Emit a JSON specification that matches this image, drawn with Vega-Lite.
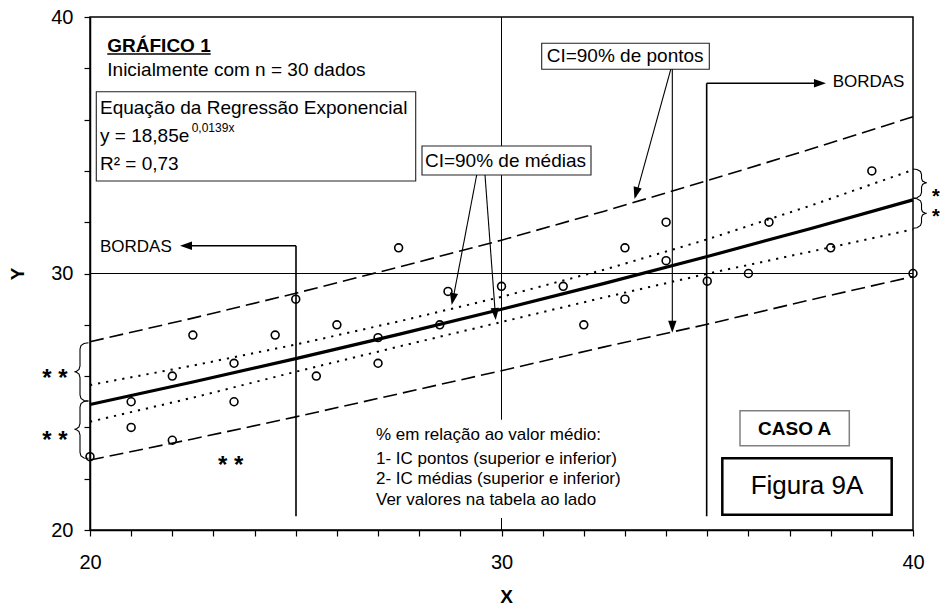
{
  "$schema": "https://vega.github.io/schema/vega-lite/v6.json",
  "width": 823,
  "height": 513,
  "autosize": "none",
  "padding": {"left": 90, "top": 17, "right": 27, "bottom": 76},
  "background": "white",
  "config": {
    "font": "Liberation Sans",
    "view": {"stroke": "black", "strokeWidth": 1.5},
    "axis": {"grid": false, "domainColor": "black", "domainWidth": 1.5, "tickColor": "black", "tickWidth": 1.2, "tickSize": 6, "labelColor": "black", "labelFontSize": 20, "titleColor": "black", "titleFontSize": 19, "titleFontWeight": "bold", "labelOverlap": false, "labelFlush": false, "labelFont": "Liberation Sans", "titleFont": "Liberation Sans"}
  },
  "datasets": {
    "points": [
      {"x": 20, "y": 22.86}, {"x": 21, "y": 24.0}, {"x": 21, "y": 25.0}, {"x": 22, "y": 23.5}, {"x": 22, "y": 26.0},
      {"x": 22.5, "y": 27.6}, {"x": 23.5, "y": 25.0}, {"x": 23.5, "y": 26.5}, {"x": 24.5, "y": 27.6}, {"x": 25, "y": 29.0},
      {"x": 25.5, "y": 26.0}, {"x": 26, "y": 28.0}, {"x": 27, "y": 26.5}, {"x": 27, "y": 27.5}, {"x": 27.5, "y": 31.0},
      {"x": 28.5, "y": 28.0}, {"x": 28.7, "y": 29.3}, {"x": 30, "y": 29.5}, {"x": 31.5, "y": 29.5}, {"x": 32, "y": 28.0},
      {"x": 33, "y": 29.0}, {"x": 33, "y": 31.0}, {"x": 34, "y": 30.5}, {"x": 34, "y": 32.0}, {"x": 35, "y": 29.7},
      {"x": 36, "y": 30.0}, {"x": 36.5, "y": 32.0}, {"x": 38, "y": 31.0}, {"x": 39, "y": 34.0}, {"x": 40, "y": 30.0}
    ],
    "reg": [
      {"x": 20, "y": 24.891}, {"x": 22.5, "y": 25.771}, {"x": 25, "y": 26.683}, {"x": 27.5, "y": 27.627}, {"x": 30, "y": 28.604},
      {"x": 32.5, "y": 29.615}, {"x": 35, "y": 30.662}, {"x": 37.5, "y": 31.747}, {"x": 40, "y": 32.869}
    ],
    "pi": [
      {"s": "up", "x": 20, "y": 27.34}, {"s": "up", "x": 22.5, "y": 28.26}, {"s": "up", "x": 25, "y": 29.23}, {"s": "up", "x": 27.5, "y": 30.25}, {"s": "up", "x": 30, "y": 31.30},
      {"s": "up", "x": 32.5, "y": 32.43}, {"s": "up", "x": 35, "y": 33.62}, {"s": "up", "x": 37.5, "y": 34.84}, {"s": "up", "x": 40, "y": 36.11},
      {"s": "lo", "x": 20, "y": 22.73}, {"s": "lo", "x": 22.5, "y": 23.55}, {"s": "lo", "x": 25, "y": 24.41}, {"s": "lo", "x": 27.5, "y": 25.31}, {"s": "lo", "x": 30, "y": 26.21},
      {"s": "lo", "x": 32.5, "y": 27.14}, {"s": "lo", "x": 35, "y": 28.02}, {"s": "lo", "x": 37.5, "y": 28.97}, {"s": "lo", "x": 40, "y": 29.88}
    ],
    "ci": [
      {"s": "up", "x": 20, "y": 25.65}, {"s": "up", "x": 22.5, "y": 26.41}, {"s": "up", "x": 25, "y": 27.23}, {"s": "up", "x": 27.5, "y": 28.13}, {"s": "up", "x": 30, "y": 29.09},
      {"s": "up", "x": 32.5, "y": 30.15}, {"s": "up", "x": 35, "y": 31.33}, {"s": "up", "x": 37.5, "y": 32.64}, {"s": "up", "x": 40, "y": 34.04},
      {"s": "lo", "x": 20, "y": 24.22}, {"s": "lo", "x": 22.5, "y": 25.16}, {"s": "lo", "x": 25, "y": 26.17}, {"s": "lo", "x": 27.5, "y": 27.15}, {"s": "lo", "x": 30, "y": 28.11},
      {"s": "lo", "x": 32.5, "y": 29.07}, {"s": "lo", "x": 35, "y": 29.99}, {"s": "lo", "x": 37.5, "y": 30.85}, {"s": "lo", "x": 40, "y": 31.72}
    ],
    "grid": [
      {"x": 30, "y": 40, "x2": 30, "y2": 24.30},
      {"x": 30, "y": 20.468, "x2": 30, "y2": 20},
      {"x": 20, "y": 30, "x2": 40, "y2": 30}
    ],
    "bordas": [
      {"x": 25.006, "y": 31.084, "x2": 22.3, "y2": 31.084},
      {"x": 25.006, "y": 31.084, "x2": 25.006, "y2": 20.534},
      {"x": 34.986, "y": 37.415, "x2": 34.986, "y2": 20.534},
      {"x": 34.986, "y": 37.415, "x2": 37.78, "y2": 37.415},
      {"x": 20.42, "y": 38.557, "x2": 22.933, "y2": 38.557}
    ],
    "arrows": [
      {"x": 34.113, "y": 37.961, "x2": 33.26, "y2": 33.0},
      {"x": 34.151, "y": 37.961, "x2": 34.151, "y2": 27.9},
      {"x": 29.397, "y": 33.84, "x2": 28.81, "y2": 28.9},
      {"x": 29.599, "y": 33.84, "x2": 29.855, "y2": 28.3}
    ],
    "braces": [
      {"b": 1, "i": 1, "x": 19.9635, "y": 27.302}, {"b": 1, "i": 2, "x": 19.854, "y": 27.271}, {"b": 1, "i": 3, "x": 19.781, "y": 27.193}, {"b": 1, "i": 4, "x": 19.757, "y": 27.057},
      {"b": 1, "i": 5, "x": 19.757, "y": 26.394}, {"b": 1, "i": 6, "x": 19.733, "y": 26.257}, {"b": 1, "i": 7, "x": 19.672, "y": 26.191}, {"b": 1, "i": 8, "x": 19.623, "y": 26.172},
      {"b": 1, "i": 9, "x": 19.672, "y": 26.152}, {"b": 1, "i": 10, "x": 19.733, "y": 26.082}, {"b": 1, "i": 11, "x": 19.757, "y": 25.946}, {"b": 1, "i": 12, "x": 19.757, "y": 25.263},
      {"b": 1, "i": 13, "x": 19.781, "y": 25.127}, {"b": 1, "i": 14, "x": 19.854, "y": 25.049}, {"b": 1, "i": 15, "x": 19.9635, "y": 25.029},
      {"b": 2, "i": 1, "x": 19.9635, "y": 25.029}, {"b": 2, "i": 2, "x": 19.854, "y": 25.010}, {"b": 2, "i": 3, "x": 19.781, "y": 24.932}, {"b": 2, "i": 4, "x": 19.757, "y": 24.795},
      {"b": 2, "i": 5, "x": 19.757, "y": 24.152}, {"b": 2, "i": 6, "x": 19.733, "y": 24.016}, {"b": 2, "i": 7, "x": 19.672, "y": 23.945}, {"b": 2, "i": 8, "x": 19.623, "y": 23.926},
      {"b": 2, "i": 9, "x": 19.672, "y": 23.906}, {"b": 2, "i": 10, "x": 19.733, "y": 23.840}, {"b": 2, "i": 11, "x": 19.757, "y": 23.704}, {"b": 2, "i": 12, "x": 19.757, "y": 23.021},
      {"b": 2, "i": 13, "x": 19.781, "y": 22.885}, {"b": 2, "i": 14, "x": 19.854, "y": 22.807}, {"b": 2, "i": 15, "x": 19.9635, "y": 22.795},
      {"b": 3, "i": 1, "x": 40.0, "y": 34.074}, {"b": 3, "i": 2, "x": 40.097, "y": 34.055}, {"b": 3, "i": 3, "x": 40.182, "y": 33.977}, {"b": 3, "i": 4, "x": 40.207, "y": 33.860},
      {"b": 3, "i": 5, "x": 40.207, "y": 33.704}, {"b": 3, "i": 6, "x": 40.231, "y": 33.606}, {"b": 3, "i": 7, "x": 40.292, "y": 33.556}, {"b": 3, "i": 8, "x": 40.333, "y": 33.540},
      {"b": 3, "i": 9, "x": 40.292, "y": 33.524}, {"b": 3, "i": 10, "x": 40.231, "y": 33.470}, {"b": 3, "i": 11, "x": 40.207, "y": 33.372}, {"b": 3, "i": 12, "x": 40.207, "y": 33.158},
      {"b": 3, "i": 13, "x": 40.182, "y": 33.041}, {"b": 3, "i": 14, "x": 40.097, "y": 32.951}, {"b": 3, "i": 15, "x": 40.0, "y": 32.932},
      {"b": 4, "i": 1, "x": 40.0, "y": 32.932}, {"b": 4, "i": 2, "x": 40.097, "y": 32.912}, {"b": 4, "i": 3, "x": 40.182, "y": 32.834}, {"b": 4, "i": 4, "x": 40.207, "y": 32.717},
      {"b": 4, "i": 5, "x": 40.207, "y": 32.503}, {"b": 4, "i": 6, "x": 40.231, "y": 32.405}, {"b": 4, "i": 7, "x": 40.292, "y": 32.359}, {"b": 4, "i": 8, "x": 40.333, "y": 32.347},
      {"b": 4, "i": 9, "x": 40.292, "y": 32.335}, {"b": 4, "i": 10, "x": 40.231, "y": 32.281}, {"b": 4, "i": 11, "x": 40.207, "y": 32.183}, {"b": 4, "i": 12, "x": 40.207, "y": 31.988},
      {"b": 4, "i": 13, "x": 40.182, "y": 31.871}, {"b": 4, "i": 14, "x": 40.097, "y": 31.782}, {"b": 4, "i": 15, "x": 40.0, "y": 31.762}
    ],
    "boxes": [
      {"x": 20.153, "x2": 27.915, "y": 33.606, "y2": 37.088},
      {"x": 28.068, "x2": 32.175, "y": 33.84, "y2": 34.971},
      {"x": 30.977, "x2": 35.05, "y": 37.961, "y2": 38.975}
    ]
  },
  "encoding": {
    "x": {"field": "x", "type": "quantitative", "scale": {"domain": [20, 40], "nice": false, "zero": false},
      "axis": {"values": [20,21,22,23,24,25,26,27,28,29,30,31,32,33,34,35,36,37,38,39,40], "labelExpr": "datum.value % 10 === 0 ? datum.label : ''", "labelPadding": 16, "title": "X", "titleX": 416, "titleY": 72, "titleBaseline": "alphabetic", "titleAlign": "center"}},
    "y": {"field": "y", "type": "quantitative", "scale": {"domain": [20, 40], "nice": false, "zero": false},
      "axis": {"values": [20,22,24,26,28,30,32,34,36,38,40], "labelExpr": "datum.value % 10 === 0 ? datum.label : ''", "labelPadding": 11, "title": "Y", "titleX": -66.7, "titleY": 256.3, "titleBaseline": "alphabetic", "titleAlign": "center", "titleAngle": 270}}
  },
  "layer": [
    {"data": {"name": "grid"}, "mark": {"type": "rule", "color": "black", "strokeWidth": 1}, "encoding": {"x2": {"field": "x2"}, "y2": {"field": "y2"}}},
    {"data": {"name": "pi"}, "mark": {"type": "line", "color": "black", "strokeWidth": 1.6, "strokeDash": [14, 6]}, "encoding": {"detail": {"field": "s"}}},
    {"data": {"name": "ci"}, "mark": {"type": "line", "color": "black", "strokeWidth": 2, "strokeDash": [2.2, 6]}, "encoding": {"detail": {"field": "s"}}},
    {"data": {"name": "reg"}, "mark": {"type": "line", "color": "black", "strokeWidth": 3.2}, "encoding": {}},
    {"data": {"name": "points"}, "mark": {"type": "point", "shape": "circle", "filled": false, "color": "black", "strokeWidth": 1.6, "size": 62, "opacity": 1}, "encoding": {}},
    {"data": {"name": "bordas"}, "mark": {"type": "rule", "color": "black", "strokeWidth": 1.6}, "encoding": {"x2": {"field": "x2"}, "y2": {"field": "y2"}}},
    {"data": {"name": "braces"}, "mark": {"type": "line", "color": "black", "strokeWidth": 1.1}, "encoding": {"detail": {"field": "b"}, "order": {"field": "i"}}},
    {"data": {"name": "boxes"}, "mark": {"type": "rect", "fill": "white", "stroke": "#222222", "strokeWidth": 1.1}, "encoding": {"x2": {"field": "x2"}, "y2": {"field": "y2"}}},
    {"data": {"values": [{"x": 35.796, "x2": 38.452, "y": 23.287, "y2": 24.651}]}, "mark": {"type": "rect", "fill": "white", "stroke": "#808080", "strokeWidth": 1.5}, "encoding": {"x2": {"field": "x2"}, "y2": {"field": "y2"}}},
    {"data": {"values": [{"x": 35.366, "x2": 39.482, "y": 20.597, "y2": 22.795}]}, "mark": {"type": "rect", "fill": "white", "stroke": "black", "strokeWidth": 2.5}, "encoding": {"x2": {"field": "x2"}, "y2": {"field": "y2"}}},
    {"data": {"name": "arrows"}, "mark": {"type": "rule", "color": "black", "strokeWidth": 1.1}, "encoding": {"x2": {"field": "x2"}, "y2": {"field": "y2"}}},
    {"data": {"values": [{"x": 33.232, "y": 32.904}]}, "mark": {"type": "point", "shape": "M0,0L-0.35,-1L0.35,-1Z", "size": 576, "filled": true, "color": "black", "opacity": 1, "angle": 15.3}, "encoding": {}},
    {"data": {"values": [{"x": 34.151, "y": 27.692}]}, "mark": {"type": "point", "shape": "M0,0L-0.35,-1L0.35,-1Z", "size": 576, "filled": true, "color": "black", "opacity": 1, "angle": 0}, "encoding": {}},
    {"data": {"values": [{"x": 28.79, "y": 28.772}]}, "mark": {"type": "point", "shape": "M0,0L-0.35,-1L0.35,-1Z", "size": 576, "filled": true, "color": "black", "opacity": 1, "angle": 10.9}, "encoding": {}},
    {"data": {"values": [{"x": 29.859, "y": 28.187}]}, "mark": {"type": "point", "shape": "M0,0L-0.35,-1L0.35,-1Z", "size": 576, "filled": true, "color": "black", "opacity": 1, "angle": -4.2}, "encoding": {}},
    {"data": {"values": [{"x": 22.187, "y": 31.084}]}, "mark": {"type": "point", "shape": "M0,0L-0.35,-1L0.35,-1Z", "size": 576, "filled": true, "color": "black", "opacity": 1, "angle": 90}, "encoding": {}},
    {"data": {"values": [{"x": 37.885, "y": 37.415}]}, "mark": {"type": "point", "shape": "M0,0L-0.35,-1L0.35,-1Z", "size": 576, "filled": true, "color": "black", "opacity": 1, "angle": -90}, "encoding": {}},
    {"data": {"values": [{"x": 20.42, "y": 38.647, "t": "GRÁFICO 1"}]}, "mark": {"type": "text", "align": "left", "baseline": "alphabetic", "fontSize": 19, "fontWeight": "bold", "color": "black"}, "encoding": {"text": {"field": "t"}}},
    {"data": {"values": [
      {"x": 20.42, "y": 37.70, "t": "Inicialmente com n = 30 dados"},
      {"x": 20.243, "y": 36.207, "t": "Equação da Regressão Exponencial"},
      {"x": 20.243, "y": 35.138, "t": "y = 18,85e"},
      {"x": 20.243, "y": 34.035, "t": "R² = 0,73"}
    ]}, "mark": {"type": "text", "align": "left", "baseline": "alphabetic", "fontSize": 19, "color": "black"}, "encoding": {"text": {"field": "t"}}},
    {"data": {"values": [{"x": 22.471, "y": 35.528, "t": "0,0139x"}]}, "mark": {"type": "text", "align": "left", "baseline": "alphabetic", "fontSize": 12, "color": "black"}, "encoding": {"text": {"field": "t"}}},
    {"data": {"values": [
      {"x": 30.097, "y": 34.164, "t": "CI=90% de médias"},
      {"x": 33.004, "y": 38.257, "t": "CI=90% de pontos"}
    ]}, "mark": {"type": "text", "align": "center", "baseline": "alphabetic", "fontSize": 19, "color": "black"}, "encoding": {"text": {"field": "t"}}},
    {"data": {"values": [
      {"x": 20.243, "y": 30.826, "t": "BORDAS"},
      {"x": 38.047, "y": 37.26, "t": "BORDAS"},
      {"x": 26.95, "y": 23.501, "t": "% em relação ao valor médio:"},
      {"x": 26.95, "y": 22.592, "t": "1- IC pontos (superior e inferior)"},
      {"x": 26.95, "y": 21.774, "t": "2- IC médias (superior e inferior)"},
      {"x": 26.95, "y": 20.967, "t": "Ver valores na tabela ao lado"}
    ]}, "mark": {"type": "text", "align": "left", "baseline": "alphabetic", "fontSize": 17, "color": "black"}, "encoding": {"text": {"field": "t"}}},
    {"data": {"values": [{"x": 37.125, "y": 23.716, "t": "CASO A"}]}, "mark": {"type": "text", "align": "center", "baseline": "alphabetic", "fontSize": 19, "fontWeight": "bold", "color": "black"}, "encoding": {"text": {"field": "t"}}},
    {"data": {"values": [{"x": 37.424, "y": 21.415, "t": "Figura 9A"}]}, "mark": {"type": "text", "align": "center", "baseline": "alphabetic", "fontSize": 26, "color": "black"}, "encoding": {"text": {"field": "t"}}},
    {"data": {"values": [
      {"x": 19.149, "y": 26.109, "t": "* *"},
      {"x": 19.149, "y": 23.704, "t": "* *"},
      {"x": 23.42, "y": 22.729, "t": "* *"}
    ]}, "mark": {"type": "text", "align": "center", "baseline": "alphabetic", "fontSize": 24, "fontWeight": "bold", "color": "black", "dy": 13}, "encoding": {"text": {"field": "t"}}},
    {"data": {"values": [
      {"x": 40.559, "y": 33.189, "t": "*"},
      {"x": 40.559, "y": 32.409, "t": "*"}
    ]}, "mark": {"type": "text", "align": "center", "baseline": "middle", "fontSize": 20, "fontWeight": "bold", "color": "black", "dy": 5}, "encoding": {"text": {"field": "t"}}}
  ]
}
